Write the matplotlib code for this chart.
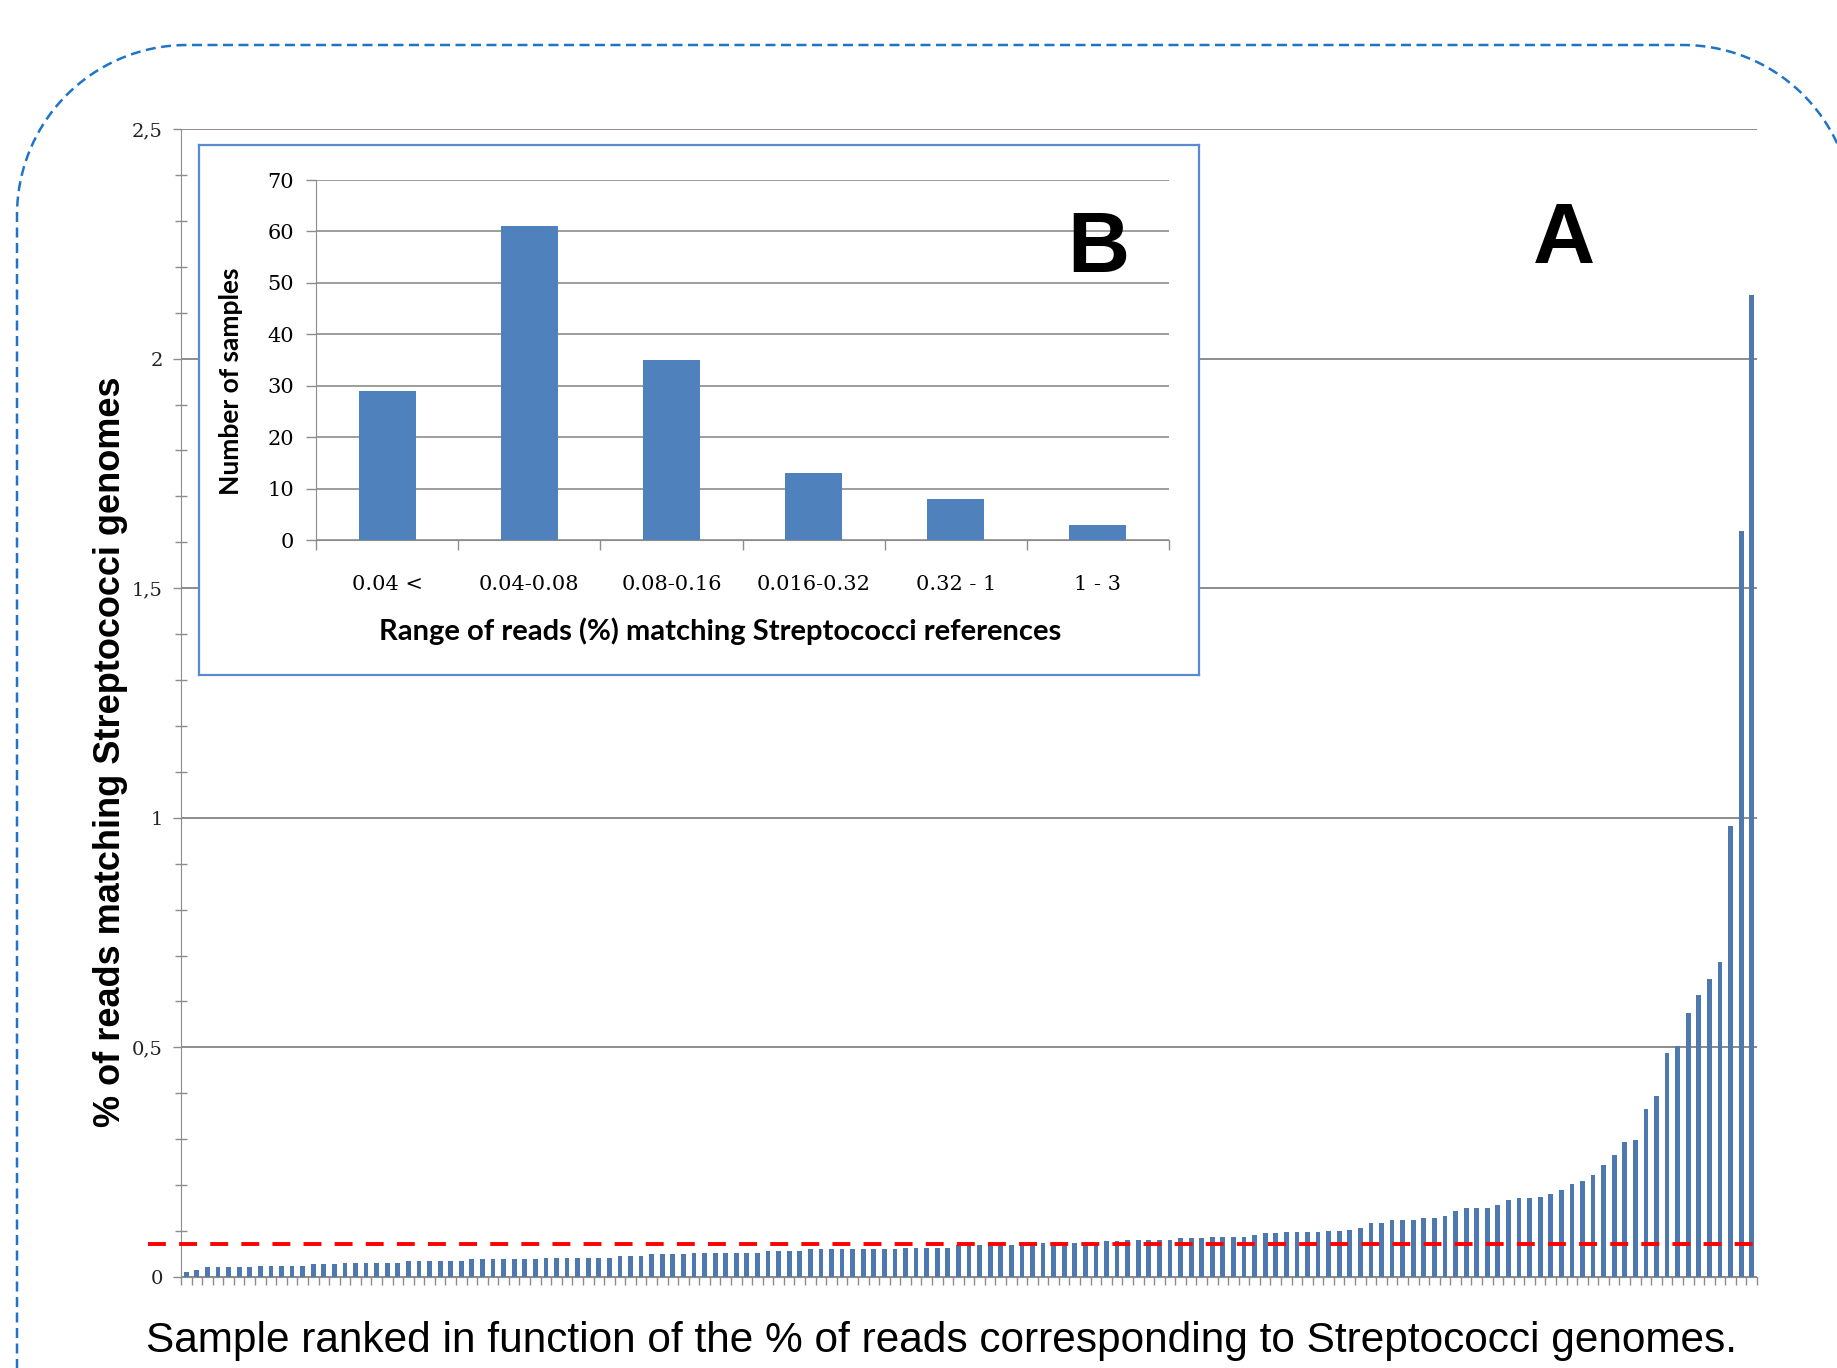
import matplotlib
matplotlib.use('Agg')
import numpy as np
import matplotlib.pyplot as plt
from matplotlib.lines import Line2D
from matplotlib.transforms import IdentityTransform
from matplotlib.ticker import MultipleLocator, FuncFormatter

# panel A: % of reads matching Streptococci, samples ranked
reads_pct = [
    0.010, 0.015, 0.021, 0.021, 0.021, 0.021, 0.021, 0.025, 0.025, 0.025,
    0.025, 0.025, 0.028, 0.028, 0.028, 0.031, 0.031, 0.031, 0.031, 0.031,
    0.031, 0.035, 0.035, 0.035, 0.035, 0.035, 0.035, 0.039, 0.039, 0.039,
    0.039, 0.039, 0.039, 0.039, 0.042, 0.042, 0.042, 0.042, 0.042, 0.042,
    0.042, 0.045, 0.045, 0.045, 0.049, 0.049, 0.049, 0.049, 0.053, 0.053,
    0.053, 0.053, 0.053, 0.053, 0.053, 0.056, 0.056, 0.056, 0.056, 0.060,
    0.060, 0.060, 0.060, 0.060, 0.060, 0.060, 0.060, 0.060, 0.063, 0.063,
    0.063, 0.063, 0.063, 0.069, 0.069, 0.069, 0.069, 0.069, 0.069, 0.069,
    0.069, 0.073, 0.073, 0.073, 0.073, 0.073, 0.073, 0.078, 0.078, 0.081,
    0.081, 0.081, 0.081, 0.081, 0.085, 0.085, 0.085, 0.088, 0.088, 0.088,
    0.088, 0.091, 0.095, 0.095, 0.097, 0.097, 0.097, 0.099, 0.100, 0.101,
    0.103, 0.107, 0.118, 0.118, 0.125, 0.125, 0.125, 0.129, 0.129, 0.132,
    0.143, 0.150, 0.150, 0.150, 0.156, 0.167, 0.171, 0.171, 0.174, 0.181,
    0.189, 0.202, 0.209, 0.223, 0.244, 0.265, 0.293, 0.299, 0.366, 0.394,
    0.488, 0.502, 0.576, 0.614, 0.649, 0.687, 0.982, 1.625, 2.138,
]
threshold = 0.071

# panel B: histogram of ranges
ranges = ['0.04 <', '0.04-0.08', '0.08-0.16', '0.016-0.32', '0.32 - 1', '1 - 3']
n_samples = [29, 61, 35, 13, 8, 3]

W, H = 1837, 1368
fig = plt.figure(figsize=(W / 100, H / 100), dpi=100)
fig.patch.set_facecolor('white')

grey = '#8c8c8c'
serif = 'DejaVu Serif'

# ---- main chart (A)
ax = fig.add_axes([181 / W, 1 - 1277 / H, (1757 - 181) / W, (1277 - 129) / H])
x = list(range(len(reads_pct)))
ax.bar(x, reads_pct, width=0.45, color='#4d79b0', zorder=2)
ax.set_xlim(-0.5, len(reads_pct) - 0.5)
ax.set_ylim(0, 2.5)
ax.yaxis.set_major_locator(MultipleLocator(0.5))
ax.yaxis.set_minor_locator(MultipleLocator(0.1))
ax.yaxis.set_major_formatter(FuncFormatter(lambda v, p: ('%g' % v).replace('.', ',')))
ax.set_xticks([i - 0.5 for i in range(len(reads_pct) + 1)])
ax.set_xticklabels([])
ax.tick_params(axis='x', direction='out', length=6, width=1, color=grey)
ax.tick_params(axis='y', which='major', direction='out', length=6, width=1, color=grey,
               pad=7, labelsize=14, labelcolor='#222222')
ax.tick_params(axis='y', which='minor', direction='inout', length=8, width=1, color=grey)
for lab in ax.get_yticklabels():
    lab.set_fontfamily(serif)
ax.grid(axis='y', color=grey, linewidth=1.4, zorder=0)
ax.set_axisbelow(True)
for s in ['top', 'right']:
    ax.spines[s].set_visible(False)
ax.spines['left'].set_color(grey)
ax.spines['bottom'].set_color(grey)
ax.axhline(threshold, xmin=-0.021, xmax=1.0, color='red', lw=2.8,
           linestyle=(0, (4.6, 3.4)), clip_on=False, zorder=4)

fig.text(111 / W, 1 - 752 / H, '% of reads matching Streptococci genomes', rotation=90,
         ha='center', va='center', fontsize=26, fontweight='bold',
         family='Liberation Sans', zorder=10)
fig.text(941 / W, 1 - 1341 / H,
         'Sample ranked in function of the % of reads corresponding to Streptococci genomes.',
         ha='center', va='center', fontsize=30.5, family='Liberation Sans')
fig.text(1564 / W, 1 - 241 / H, 'A', ha='center', va='center', fontsize=62,
         fontweight='bold', family='Liberation Sans')

# ---- inset frame
box = fig.add_axes([199 / W, 1 - 675 / H, (1199 - 199) / W, (675 - 145) / H], zorder=2)
box.set_xticks([])
box.set_yticks([])
box.set_facecolor('white')
for s in box.spines.values():
    s.set_color('#5a8ad0')
    s.set_linewidth(1.6)

# ---- inset chart (B)
axb = fig.add_axes([316 / W, 1 - 540 / H, (1169 - 316) / W, (540 - 180) / H], zorder=3)
axb.bar(range(len(ranges)), n_samples, width=0.4, color='#4f81bd', zorder=2)
axb.set_xlim(-0.5, len(ranges) - 0.5)
axb.set_ylim(0, 70)
axb.set_yticks(range(0, 71, 10))
axb.set_xticks(range(len(ranges)))
axb.set_xticklabels(ranges)
axb.set_xticks([i - 0.5 for i in range(len(ranges) + 1)], minor=True)
axb.tick_params(axis='x', which='major', length=0, pad=25, labelsize=15)
axb.tick_params(axis='x', which='minor', direction='out', length=7, width=1, color=grey)
axb.tick_params(axis='y', direction='out', length=7, width=1, color=grey, pad=9, labelsize=15)
for lab in axb.get_xticklabels() + axb.get_yticklabels():
    lab.set_fontfamily(serif)
axb.grid(axis='y', color=grey, linewidth=1.2, zorder=0)
axb.set_axisbelow(True)
for s in ['top', 'right']:
    axb.spines[s].set_visible(False)
axb.spines['left'].set_color(grey)
axb.spines['bottom'].set_color(grey)
axb.set_ylabel('Number of samples', fontsize=19, fontweight='bold', family='Lato', va='center')
axb.yaxis.set_label_coords(-0.0997, 0.44)
axb.set_xlabel('Range of reads (%) matching Streptococci references', fontsize=21,
               fontweight='bold', family='Lato', va='center')
axb.xaxis.set_label_coords(0.474, -0.254)
fig.text(1098 / W, 1 - 250 / H, 'B', ha='center', va='center', fontsize=62,
         fontweight='bold', family='Liberation Sans', zorder=5)

# ---- dashed rounded frame around the whole figure (pixel coords)
R = 170
left, right, top = 17, 1853, H - 45
t1 = np.linspace(np.pi, np.pi / 2, 40)
t2 = np.linspace(np.pi / 2, 0, 40)
fx = np.concatenate([[left], left + R + R * np.cos(t1), right - R + R * np.cos(t2), [right]])
fy = np.concatenate([[-20], top - R + R * np.sin(t1), top - R + R * np.sin(t2), [-20]])
frame = Line2D(fx, fy, transform=IdentityTransform(), color='#1f74c8',
               linewidth=1.8, linestyle=(0, (4, 2.2)))
fig.add_artist(frame)

fig.savefig('out.png', dpi=100)
